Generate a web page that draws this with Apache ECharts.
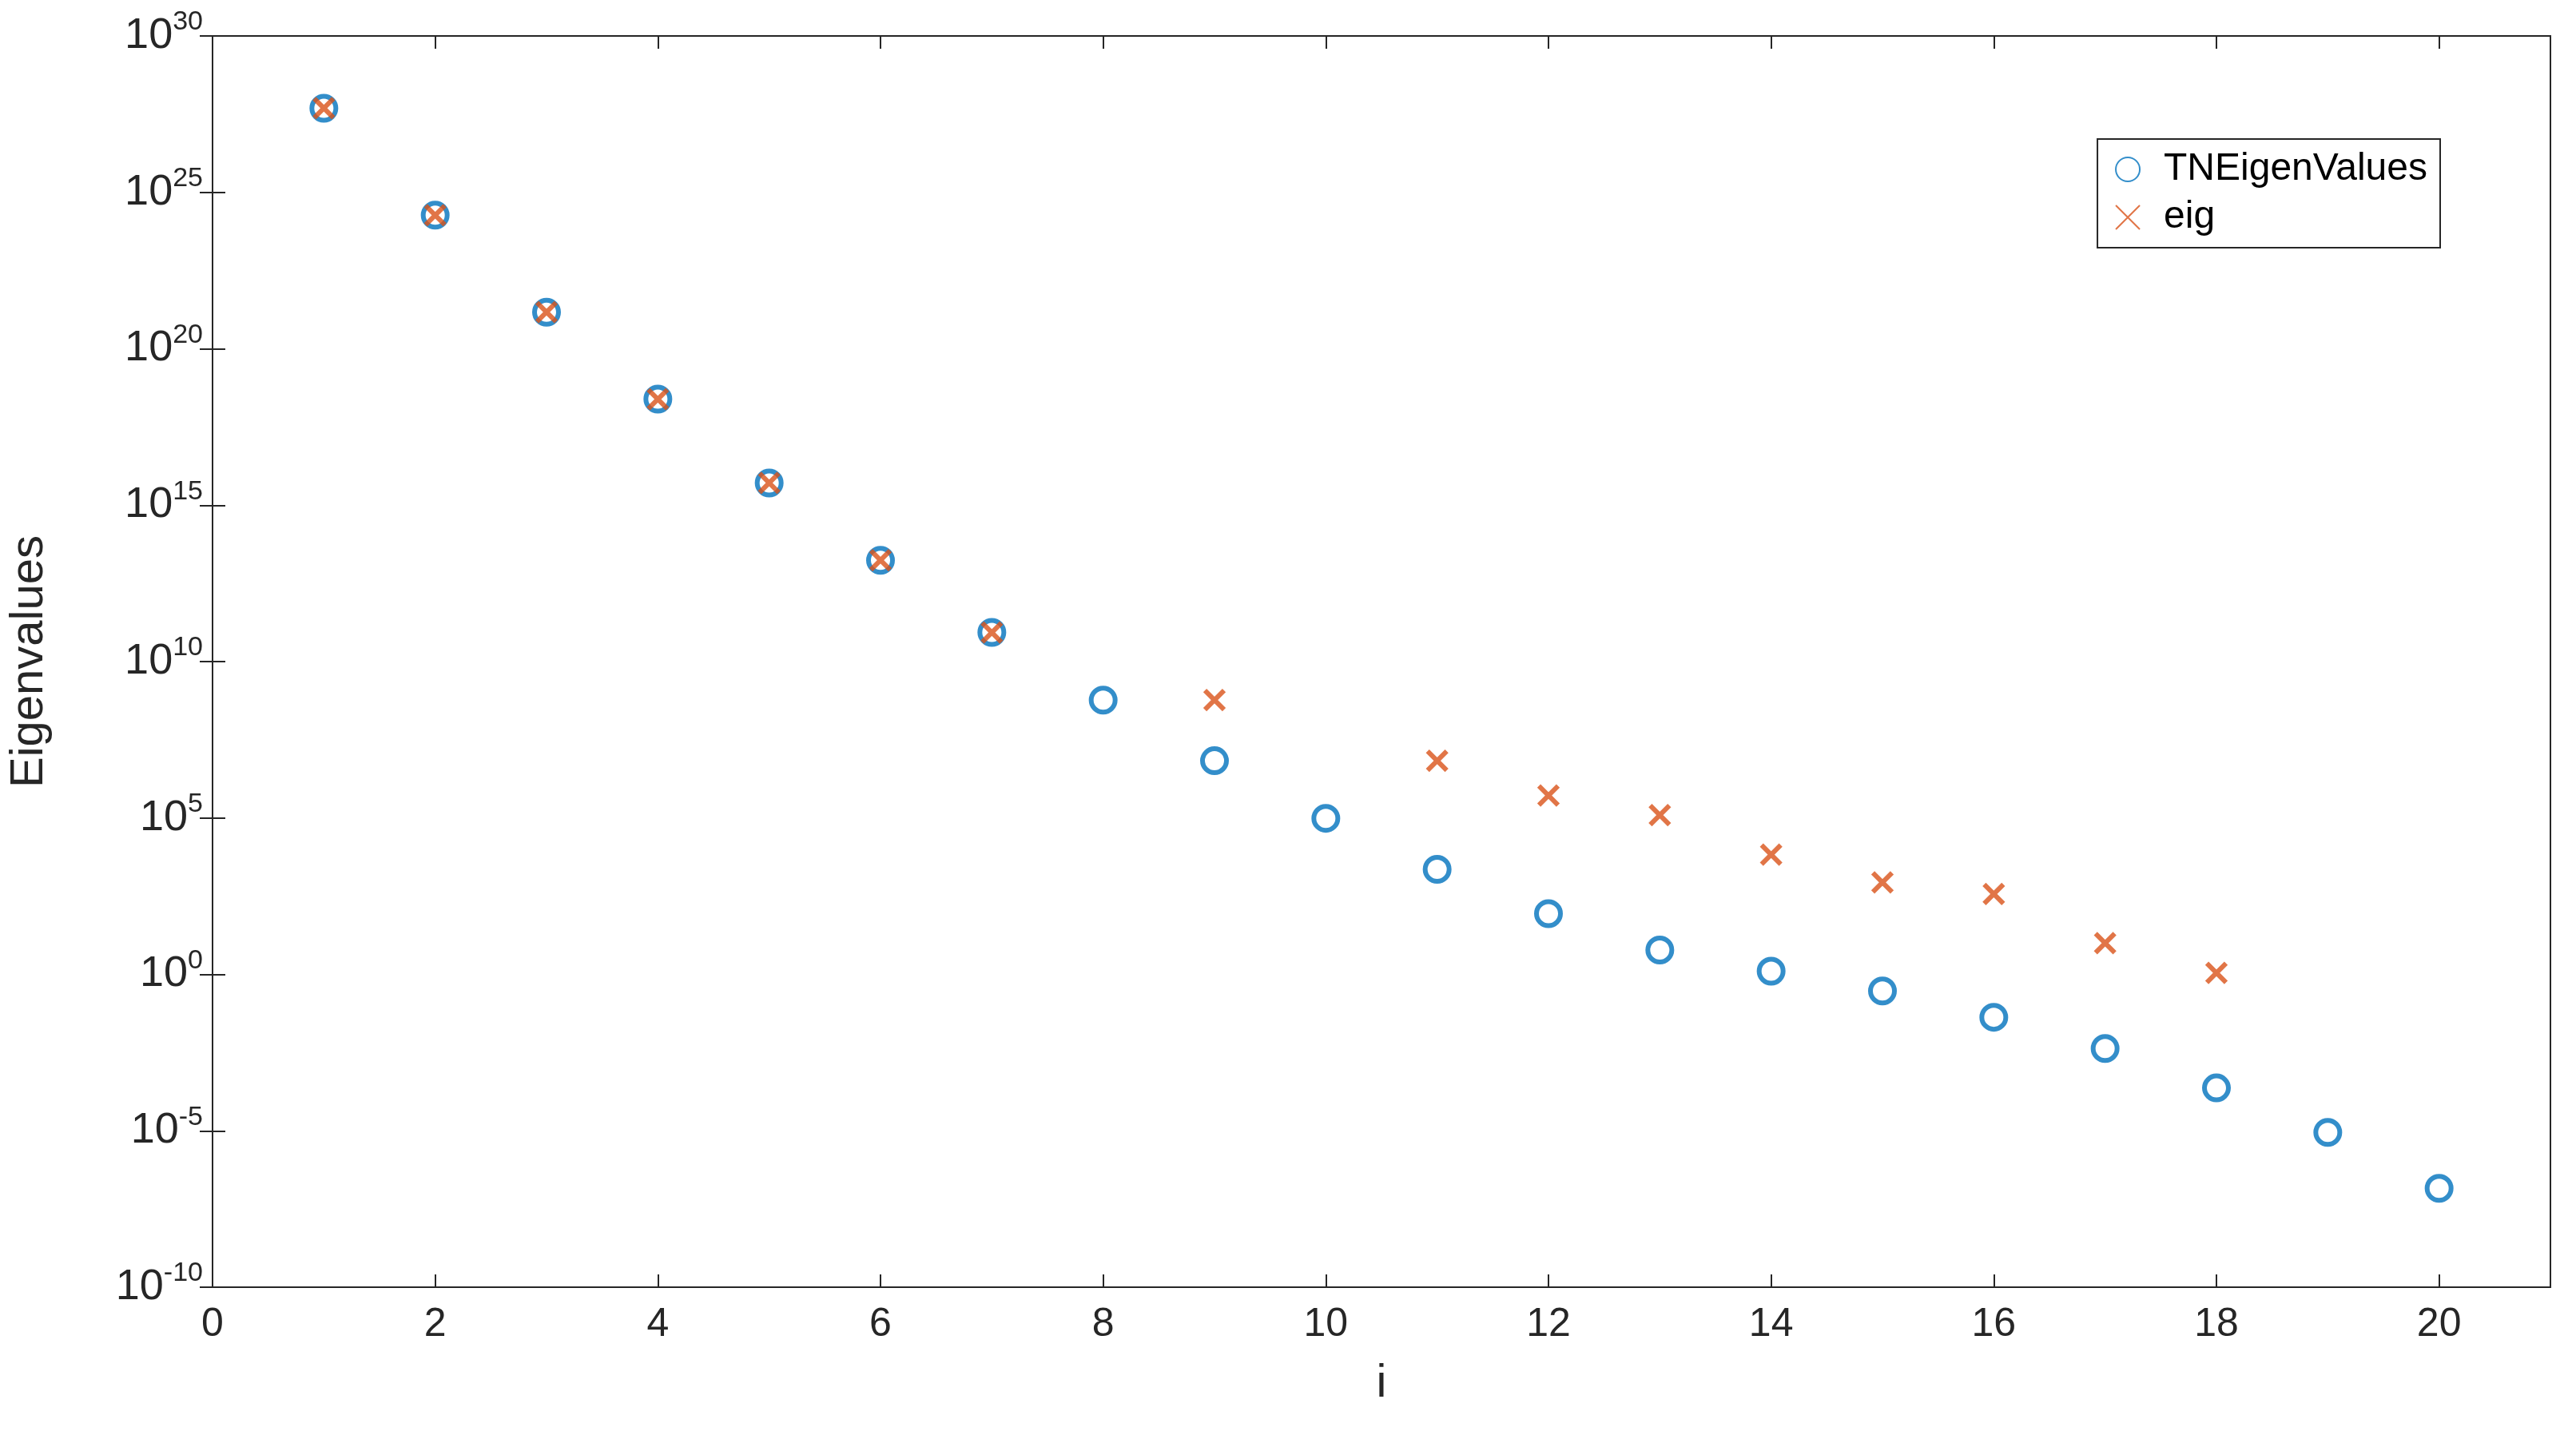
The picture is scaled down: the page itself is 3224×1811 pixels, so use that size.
<!DOCTYPE html>
<html><head><meta charset="utf-8">
<script src="https://cdn.jsdelivr.net/npm/echarts@6/dist/echarts.min.js"></script>
<style>html,body{margin:0;padding:0;background:#fff}#c{width:3224px;height:1811px}</style>
</head><body><div id="c"></div>
<script>
const idx = [1,2,3,4,5,6,7,8,9,10,11,12,13,14,15,16,17,18,19,20];
const tnExp = [27.69,24.27,21.17,18.39,15.71,13.24,10.93,8.77,6.83,4.99,3.36,1.94,0.78,0.10,-0.53,-1.37,-2.37,-3.63,-5.05,-6.84];
const eigIdx = [1,2,3,4,5,6,7,9,11,12,13,14,15,16,17,18];
const eigExp = [27.69,24.27,21.17,18.39,15.71,13.24,10.93,8.77,6.83,5.72,5.09,3.83,2.94,2.57,1.0,0.05];
const xTicks = [0,2,4,6,8,10,12,14,16,18,20];
const blue = '#0072BD', orange = '#D95319';
const tn = idx.map((x,i)=>[x, Math.pow(10, tnExp[i])]);
const eg = eigIdx.map((x,i)=>[x, Math.pow(10, eigExp[i])]);
const font = 'Helvetica, Arial, "Liberation Sans", sans-serif';
const ylab = v => { const e = Math.round(Math.log10(v)); return '{b|10}{s|' + e + '}'; };
const chart = echarts.init(document.getElementById('c'));
const axLine = {show:true, lineStyle:{color:'#262626', width:2}};
chart.setOption({
  animation:false,
  grid:{left:250, right:32, top:45, bottom:200, show:true, borderColor:'#262626', borderWidth:2},
  legend:{
    orient:'vertical', right:170, top:174, itemGap:12,
    borderColor:'#262626', borderWidth:2, padding:[14,16,14,22],
    backgroundColor:'#fff', itemWidth:40, itemHeight:30,
    textStyle:{fontSize:48, fontFamily:font, color:'#000', padding:[0,0,0,20]},
    data:['TNEigenValues','eig']
  },
  xAxis:[
    {type:'value', min:0, max:21, interval:2, axisLine:axLine,
     axisTick:{inside:true, length:16, lineStyle:{color:'#262626', width:2}},
     axisLabel:{fontSize:50, fontFamily:font, color:'#262626', margin:22,
       formatter: v => xTicks.includes(v) ? String(v) : ''},
     splitLine:{show:false},
     name:'i', nameLocation:'middle', nameGap:92, nameTextStyle:{fontSize:58, fontFamily:font, color:'#262626'}},
    {type:'value', position:'top', min:0, max:21, interval:2, axisLine:axLine,
     axisTick:{inside:true, length:16, lineStyle:{color:'#262626', width:2}},
     axisLabel:{show:false}, splitLine:{show:false}}
  ],
  yAxis:[
    {type:'log', logBase:10, min:1e-10, max:1e30, interval:5, axisLine:axLine,
     axisTick:{inside:true, length:16, lineStyle:{color:'#262626', width:2}},
     axisLabel:{margin:12, formatter: ylab,
       rich:{b:{fontSize:54, fontFamily:font, color:'#262626'},
             s:{fontSize:34, verticalAlign:'top', padding:[0,0,34,0], fontFamily:font, color:'#262626'}}},
     splitLine:{show:false},
     name:'Eigenvalues', nameLocation:'middle', nameGap:200, nameTextStyle:{fontSize:58, fontFamily:font, color:'#262626'}},
    {type:'log', logBase:10, position:'right', min:1e-10, max:1e30, interval:5, axisLine:axLine,
     axisTick:{inside:true, length:16, lineStyle:{color:'#262626', width:2}},
     axisLabel:{show:false}, splitLine:{show:false}}
  ],
  series:[
    {name:'TNEigenValues', type:'scatter', data:tn, symbol:'circle', symbolSize:30,
     itemStyle:{color:'rgba(0,0,0,0)', borderColor:blue, borderWidth:6}},
    {name:'eig', type:'scatter', data:eg, symbol:'path://M0,0L10,10M10,0L0,10', symbolSize:24,
     itemStyle:{color:'rgba(0,0,0,0)', borderColor:orange, borderWidth:6}}
  ]
});
</script></body></html>
